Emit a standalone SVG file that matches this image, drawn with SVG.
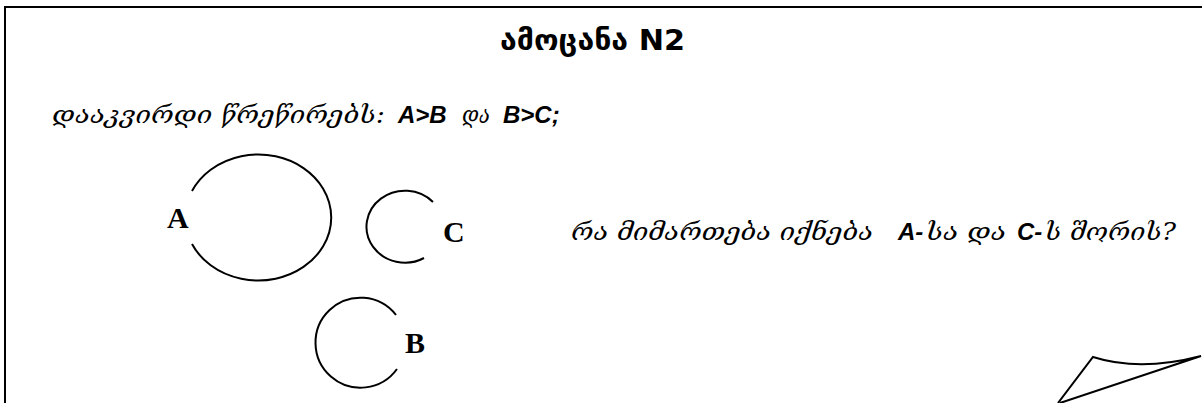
<svg xmlns="http://www.w3.org/2000/svg" width="1202" height="403" viewBox="0 0 1202 403">
  <style>
    .ln { fill: none; stroke: #000; stroke-width: 2; }
    .title { font-family: "DejaVu Sans", sans-serif; font-weight: bold; font-size: 28px; fill: #000; }
    .geo { font-family: "DejaVu Serif", "DejaVu Sans", serif; font-style: italic; font-size: 24px; fill: #000; }
    .lat { font-family: "Liberation Sans", Arial, sans-serif; font-style: italic; font-weight: bold; font-size: 24px; fill: #000; }
    .lbl { font-family: "Liberation Serif", "Times New Roman", serif; font-weight: bold; font-size: 30px; fill: #000; }
  </style>
  <rect width="1202" height="403" fill="#fff"/>
  <g id="frame">
    <path class="ln" d="M5,403 L5,7 L1202,7"/>
  </g>
  <g id="title">
    <text class="title" x="500" y="50" textLength="185" lengthAdjust="spacingAndGlyphs">ამოცანა N2</text>
  </g>
  <g id="instruction">
    <text class="geo" x="52" y="123" textLength="333" lengthAdjust="spacingAndGlyphs">დააკვირდი წრეწირებს:</text>
    <text class="lat" x="398" y="123">A&gt;B</text>
    <text class="geo" x="462" y="123" textLength="28" lengthAdjust="spacingAndGlyphs">და</text>
    <text class="lat" x="503" y="123">B&gt;C;</text>
  </g>
  <g id="circle-A">
    <path class="ln" d="M192,191 A73,63 0 1 1 192,244"/>
    <text class="lbl" x="167" y="228">A</text>
  </g>
  <g id="circle-C">
    <path class="ln" d="M433,202 A38.5,36 0 1 0 424,258"/>
    <text class="lbl" x="443" y="242">C</text>
  </g>
  <g id="circle-B">
    <path class="ln" d="M396,315 A45,45 0 1 0 397,369"/>
    <text class="lbl" x="405" y="353">B</text>
  </g>
  <g id="question">
    <text class="geo" x="571" y="240" textLength="302" lengthAdjust="spacingAndGlyphs">რა მიმართება იქნება</text>
    <text class="lat" x="898" y="240">A-</text>
    <text class="geo" x="926" y="240" textLength="80" lengthAdjust="spacingAndGlyphs">სა და</text>
    <text class="lat" x="1017" y="240">C-</text>
    <text class="geo" x="1045" y="240" textLength="131" lengthAdjust="spacingAndGlyphs">ს შორის?</text>
  </g>
  <g id="page-curl">
    <path class="ln" d="M1058,403 L1093,357 Q1140,372 1201,356 L1060,403"/>
  </g>
</svg>
